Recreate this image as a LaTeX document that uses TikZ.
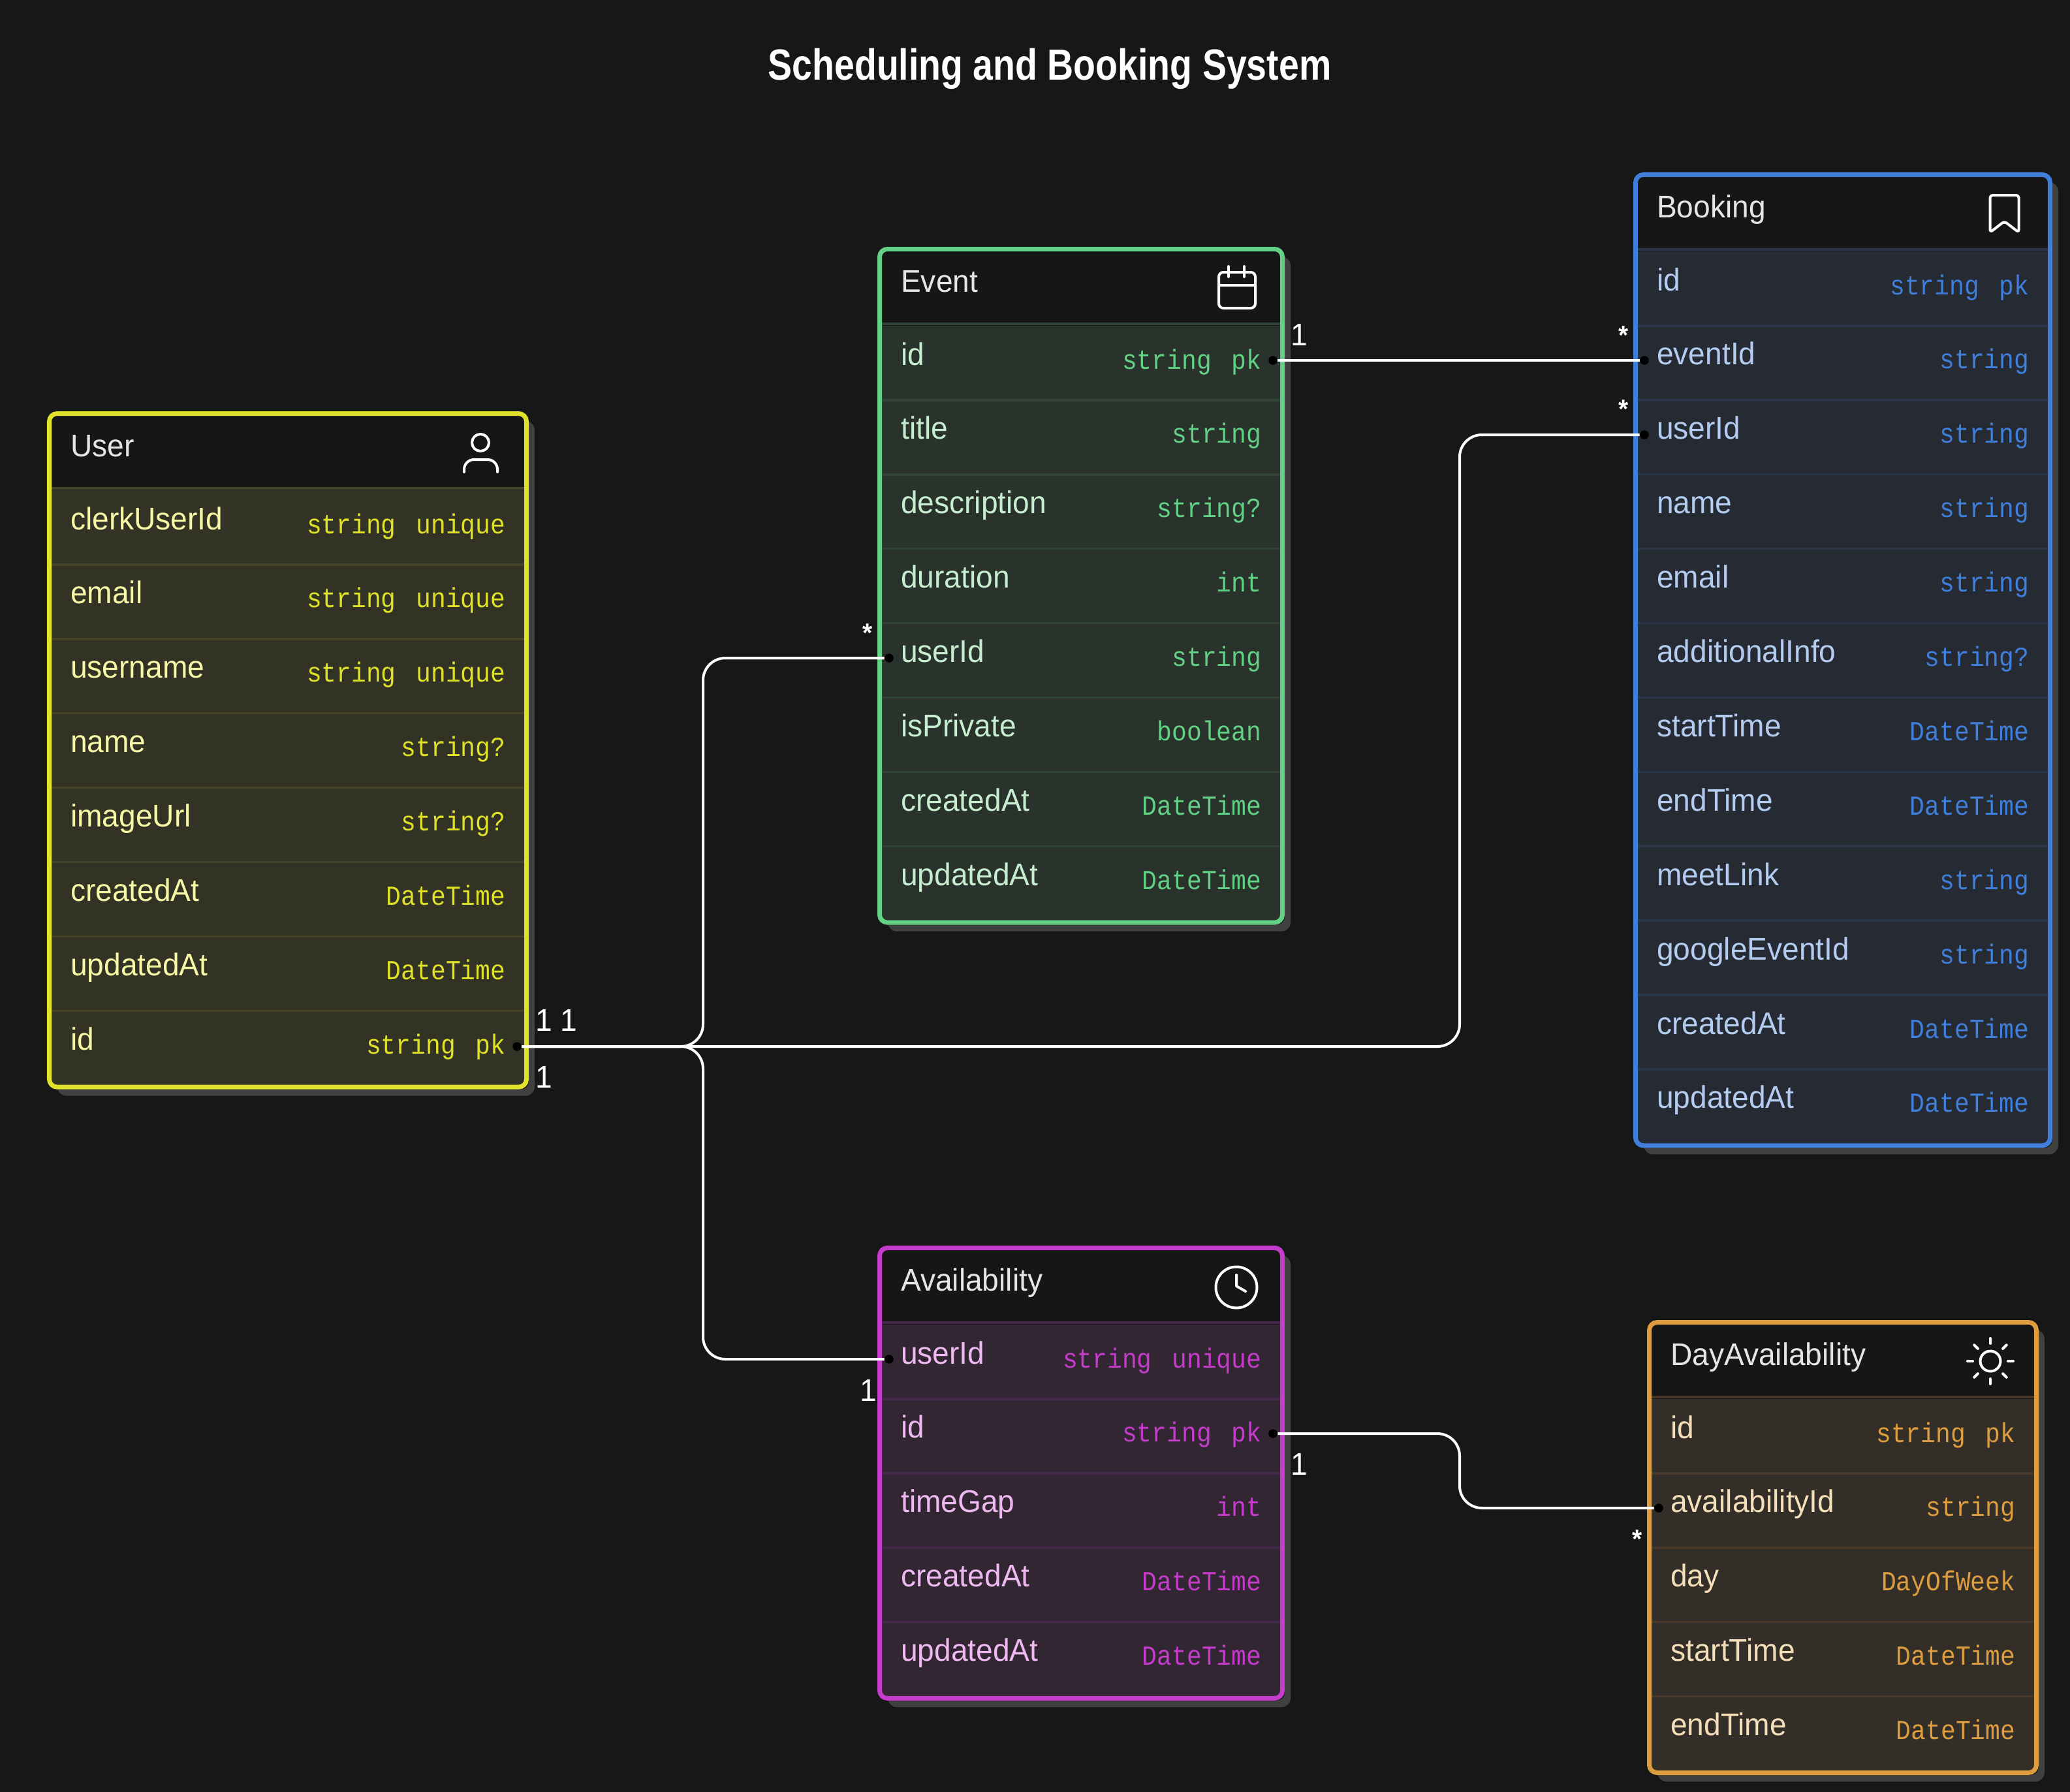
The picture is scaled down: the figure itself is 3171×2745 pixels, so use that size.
\documentclass[tikz,border=0pt]{standalone}
\usepackage{fontspec}
\setmainfont{Liberation Sans}[FakeStretch=0.96]
\setmonofont{Liberation Mono}[FakeStretch=0.9,WordSpace=1.35]
\newfontfamily\titlefont{Liberation Sans}[FakeStretch=0.83]
\definecolor{pagebg}{HTML}{171717}
\definecolor{headbg}{HTML}{161616}
\definecolor{shadowgrey}{HTML}{404040}
\definecolor{user}{HTML}{E0E22A}
\definecolor{userfill}{HTML}{323325}
\definecolor{userrule}{HTML}{434428}
\definecolor{usertext}{HTML}{F7F7A6}
\definecolor{event}{HTML}{62D185}
\definecolor{eventfill}{HTML}{29322B}
\definecolor{eventrule}{HTML}{2F4435}
\definecolor{eventtext}{HTML}{C6EDCF}
\definecolor{booking}{HTML}{3F7FDB}
\definecolor{bookingfill}{HTML}{262B33}
\definecolor{bookingrule}{HTML}{2A3648}
\definecolor{bookingtext}{HTML}{B4CCF0}
\definecolor{avail}{HTML}{C53BCB}
\definecolor{availfill}{HTML}{312632}
\definecolor{availrule}{HTML}{45284A}
\definecolor{availtext}{HTML}{EDB9F0}
\definecolor{dayavail}{HTML}{DE9E3F}
\definecolor{dayavailfill}{HTML}{332E27}
\definecolor{dayavailrule}{HTML}{47382A}
\definecolor{dayavailtext}{HTML}{F5DFBB}
\tikzset{
  entitytitle/.style={anchor=base west,inner sep=0pt,text=white!90!black,font=\fontsize{13.66}{16}\selectfont},
  fieldname/.style={anchor=base west,inner sep=0pt,font=\fontsize{13.66}{16}\selectfont},
  fieldtype/.style={anchor=base east,inner sep=0pt,font=\ttfamily\fontsize{12}{14}\selectfont},
  cardlabel/.style={anchor=base,inner sep=0pt,text=white,font=\fontsize{13.66}{16}\selectfont},
  starlabel/.style={anchor=base,inner sep=0pt,text=white,font=\bfseries\fontsize{11.5}{14}\selectfont},
  portdot/.style={circle,fill=black,inner sep=0pt,minimum size=0.135cm},
  relline/.style={draw=white,line width=0.04cm,rounded corners=0.34cm},
  iconline/.style={draw=white,line width=0.04cm,line cap=round,line join=round}
}
\newcommand{\entitybox}[7]{%
  \pgfmathsetmacro{\boxbot}{#4+121+113.9*#6+6.5}%
  \fill[shadowgrey,rounded corners=0.14cm] ({#3+16},{#4+15}) rectangle ({#5+9},{\boxbot+10});
  \fill[headbg,rounded corners=0.12cm] (#3,#4) rectangle (#5,\boxbot);
  \begin{scope}
    \clip[rounded corners=0.1cm] ({#3+5},{#4+5}) rectangle ({#5-5},{\boxbot-5});
    \draw[#1rule,line width=0.04cm] (#3,{#4+118}) -- (#5,{#4+118});
    \foreach \fname/\ftype [count=\i from 0] in {#7}{
      \pgfmathsetmacro{\rowtop}{#4+121+113.9*\i}
      \fill[#1fill] (#3,\rowtop) rectangle (#5,{\rowtop+113.9});
      \ifnum\i>0 \draw[#1rule,line width=0.035cm] (#3,\rowtop) -- (#5,\rowtop);\fi
      \node[fieldname,text=#1text] (#1-name-\i) at ({#3+35.5},{\rowtop+60}) {\fname};
      \node[fieldtype,text=#1] (#1-type-\i) at ({#5-35},{\rowtop+66}) {\ftype};
    }
  \end{scope}
  \draw[draw=#1,line width=0.07cm,rounded corners=0.12cm] ({#3+3.5},{#4+3.5}) rectangle ({#5-3.5},{\boxbot-3.5});
  \node[entitytitle] (#1-title) at ({#3+35.5},{#4+69}) {#2};
}
\begin{document}
\begin{tikzpicture}[x=0.01cm,y=-0.01cm]
  \path[use as bounding box] (0,0) rectangle (3171,2745);
  \fill[pagebg] (0,0) rectangle (3171,2745);

  \node[anchor=base,inner sep=0pt,text=white,font=\titlefont\bfseries\fontsize{19}{22}\selectfont] (title) at (1608,123) {Scheduling and Booking System};

  \entitybox{user}{User}{72}{630}{810}{8}{
    clerkUserId/string unique,
    email/string unique,
    username/string unique,
    name/string?,
    imageUrl/string?,
    createdAt/DateTime,
    updatedAt/DateTime,
    id/string pk}
  \entitybox{event}{Event}{1344}{378}{1968}{8}{
    id/string pk,
    title/string,
    description/string?,
    duration/int,
    userId/string,
    isPrivate/boolean,
    createdAt/DateTime,
    updatedAt/DateTime}
  \entitybox{booking}{Booking}{2502}{264}{3144}{12}{
    id/string pk,
    eventId/string,
    userId/string,
    name/string,
    email/string,
    additionalInfo/string?,
    startTime/DateTime,
    endTime/DateTime,
    meetLink/string,
    googleEventId/string,
    createdAt/DateTime,
    updatedAt/DateTime}
  \entitybox{avail}{Availability}{1344}{1908}{1968}{5}{
    userId/string unique,
    id/string pk,
    timeGap/int,
    createdAt/DateTime,
    updatedAt/DateTime}
  \entitybox{dayavail}{DayAvailability}{2523}{2022}{3123}{5}{
    id/string pk,
    availabilityId/string,
    day/DayOfWeek,
    startTime/DateTime,
    endTime/DateTime}

  % Person.
  \begin{scope}[shift={(736,678)},iconline]
    \draw (0,0) circle[radius=13];
    \draw[rounded corners=0.15cm] (-25,45) -- (-25,26) -- (26,26) -- (26,45);
  \end{scope}
  % Calendar.
  \begin{scope}[shift={(1895,445)},iconline]
    \draw[rounded corners=0.07cm] (-28,-28) rectangle (28,27);
    \draw (-28,-8) -- (28,-8);
    \draw (-13,-37) -- (-13,-21);
    \draw (11,-37) -- (11,-21);
  \end{scope}
  % Bookmark.
  \begin{scope}[shift={(3070.5,328)},iconline]
    \draw[rounded corners=0.04cm] (0,11) -- (-22,28) -- (-22,-29) -- (22,-29) -- (22,28) -- cycle;
  \end{scope}
  % Clock.
  \begin{scope}[shift={(1894,1972)},iconline]
    \draw (0,0) circle[radius=31.5];
    \draw (0,-19) -- (0,-2) -- (14,6);
  \end{scope}
  % Sun.
  \begin{scope}[shift={(3049,2085)},iconline]
    \draw (0,0) circle[radius=15.5];
    \foreach \aa in {0,45,...,315}{
      \draw (\aa:27) -- (\aa:35);
    }
  \end{scope}

  % Ports on the key rows.
  \node[portdot] (userid) at (792,1603) {};
  \node[portdot] (eventkey) at (1950,552) {};
  \node[portdot] (eventuser) at (1362,1008) {};
  \node[portdot] (bookevent) at (2519,552) {};
  \node[portdot] (bookuser) at (2519,666) {};
  \node[portdot] (availuser) at (1362,2082) {};
  \node[portdot] (availkey) at (1950,2196) {};
  \node[portdot] (dayavailkey) at (2541,2310) {};
  \coordinate (busleft) at (1077,1603);
  \coordinate (busright) at (2236,1603);
  \coordinate (busday) at (2236,2196);

  \draw[relline] (userid) -- (busleft) |- (eventuser);
  \draw[relline] (userid) -- (busleft) |- (availuser);
  \draw[relline] (userid) -- (busright) |- (bookuser);
  \draw[relline] (eventkey) -- (bookevent);
  \draw[relline] (availkey) -- (busday) |- (dayavailkey);

  % Cardinalities.
  \node[cardlabel] (carda) at (833,1579) {1};
  \node[cardlabel] (cardb) at (871,1579) {1};
  \node[cardlabel] (cardc) at (833,1666) {1};
  \node[cardlabel] (cardd) at (1990,529) {1};
  \node[cardlabel] (carde) at (1330,2146) {1};
  \node[cardlabel] (cardf) at (1990,2259) {1};
  \node[starlabel] (cardg) at (2487,527) {*};
  \node[starlabel] (cardh) at (2487,640) {*};
  \node[starlabel] (cardi) at (1329,983) {*};
  \node[starlabel] (cardj) at (2508,2371) {*};
\end{tikzpicture}
\end{document}
